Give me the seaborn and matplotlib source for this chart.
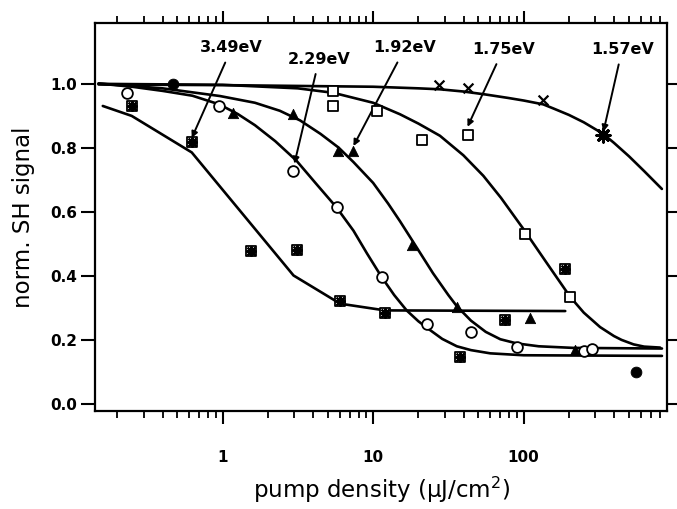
import numpy as np
import pandas as pd
import matplotlib
matplotlib.use('Agg')
import matplotlib.pyplot as plt
import matplotlib.ticker as mticker
import seaborn as sns

# fitted curves, x in uJ/cm^2
c157_x = [0.15, 1, 10, 20, 27.8, 40, 55.5, 79, 100, 135, 158, 200, 251, 316, 339, 398, 501, 631, 829]
c157_y = [0.997, 0.995, 0.99, 0.985, 0.982, 0.975, 0.966, 0.955, 0.947, 0.935, 0.922, 0.902, 0.879,
          0.851, 0.842, 0.815, 0.773, 0.727, 0.671]

c175_x = [0.15, 1, 3.16, 5.45, 10, 15.1, 20, 27.8, 39.8, 54, 70.8, 99.7, 141, 204, 251, 322, 398, 447,
          537, 631, 807]
c175_y = [0.999, 0.996, 0.985, 0.971, 0.94, 0.904, 0.875, 0.837, 0.776, 0.712, 0.643, 0.546, 0.443,
          0.334, 0.285, 0.24, 0.212, 0.2, 0.186, 0.179, 0.176]

c192_x = [0.15, 0.4, 0.96, 1.64, 2.4, 3.27, 4.47, 5.9, 7.4, 10, 12.6, 15.1, 18.5, 25, 31.6, 36, 44.7,
          56, 70, 90, 126, 214, 830]
c192_y = [1.0, 0.985, 0.961, 0.94, 0.915, 0.885, 0.843, 0.80, 0.755, 0.69, 0.625, 0.57, 0.505, 0.408,
          0.34, 0.305, 0.26, 0.225, 0.202, 0.189, 0.18, 0.175, 0.173]

c229_x = [0.15, 0.25, 0.4, 0.63, 0.95, 1.26, 1.64, 2.24, 3.1, 4.17, 5.7, 7.4, 9.1, 11.4, 13.8, 16.7,
          20, 24, 28.8, 36, 44.7, 60, 100, 830]
c229_y = [1.0, 0.99, 0.977, 0.962, 0.935, 0.905, 0.87, 0.82, 0.759, 0.688, 0.614, 0.541, 0.47, 0.396,
          0.34, 0.292, 0.258, 0.23, 0.203, 0.18, 0.168, 0.158, 0.152, 0.15]

c349_x = [0.16, 0.249, 0.624, 2.96, 6.04, 12, 189]
c349_y = [0.93, 0.899, 0.785, 0.401, 0.313, 0.292, 0.29]

# measured points
m349_x = [0.249, 0.624, 1.55, 3.11, 6.04, 12.0, 37.8, 75.4, 189]
m349_y = [0.93, 0.818, 0.476, 0.481, 0.32, 0.285, 0.147, 0.261, 0.422]

m229_x = [0.231, 0.94, 2.93, 5.79, 11.4, 22.7, 45, 90, 250, 284]
m229_y = [0.971, 0.93, 0.726, 0.614, 0.396, 0.25, 0.226, 0.178, 0.166, 0.17]

m192_x = [1.18, 2.95, 5.88, 7.4, 18.1, 36, 110, 220]
m192_y = [0.909, 0.904, 0.788, 0.788, 0.497, 0.302, 0.268, 0.168]

m175_x = [5.45, 5.4, 10.6, 21.1, 42.4, 102, 204]
m175_y = [0.977, 0.930, 0.914, 0.823, 0.84, 0.531, 0.334]

m157_x = [27.2, 43, 135]
m157_y = [0.994, 0.987, 0.95]
m157s_x = [339]
m157s_y = [0.84]

filled_x = [0.47, 560]
filled_y = [1.0, 0.1]

# labels: text, text position, arrow tip
labels = ['3.49eV', '2.29eV', '1.92eV', '1.75eV', '1.57eV']
label_x = [1.15, 4.38, 16.3, 73.1, 451]
label_y = [1.111, 1.076, 1.111, 1.106, 1.106]
tip_x = [0.624, 3.0, 7.4, 42.4, 339]
tip_y = [0.83, 0.75, 0.805, 0.865, 0.85]

sns.set_style('ticks')
plt.rcParams['font.family'] = ['DejaVu Sans']
plt.rcParams.update({'text.color': 'black', 'axes.labelcolor': 'black',
                     'xtick.color': 'black', 'ytick.color': 'black',
                     'axes.edgecolor': 'black'})

fig = plt.figure(figsize=(6.77, 5.09), dpi=100)
ax = fig.add_axes([0.1403, 0.1925, 0.845, 0.763])

for cx, cy in [(c157_x, c157_y), (c175_x, c175_y), (c192_x, c192_y),
               (c229_x, c229_y), (c349_x, c349_y)]:
    sns.lineplot(x=cx, y=cy, ax=ax, color='black', lw=1.9, sort=False, estimator=None)

k = dict(ax=ax, legend=False, zorder=5)
# 3.49 eV: boxed asterisk
sns.scatterplot(x=m349_x, y=m349_y, marker='s', s=42, facecolor='white', edgecolor='black', linewidth=1.3, **k)
sns.scatterplot(x=m349_x, y=m349_y, marker=(8, 2, 0), s=40, color='black', linewidth=1.6, **k)
sns.scatterplot(x=m229_x, y=m229_y, marker='o', s=60, facecolor='white', edgecolor='black', linewidth=1.3, **k)
sns.scatterplot(x=m192_x, y=m192_y, marker='^', s=55, color='black', edgecolor='black', **k)
sns.scatterplot(x=m175_x, y=m175_y, marker='s', s=48, facecolor='white', edgecolor='black', linewidth=1.3, **k)
sns.scatterplot(x=m157_x, y=m157_y, marker='x', s=50, color='black', linewidth=1.6, **k)
sns.scatterplot(x=m157s_x, y=m157s_y, marker=(8, 2, 0), s=90, color='black', linewidth=2.2, **k)
sns.scatterplot(x=filled_x, y=filled_y, marker='o', s=60, color='black', edgecolor='black', **k)

for t, lx, ly, tx, ty in zip(labels, label_x, label_y, tip_x, tip_y):
    ax.annotate(t, xy=(tx, ty), xytext=(lx, ly), ha='center', va='center',
                fontsize=11.5, fontweight='bold',
                arrowprops=dict(arrowstyle='-|>', color='black', lw=1.4,
                                mutation_scale=9, shrinkA=3, shrinkB=0))

ax.set_xscale('log')
ax.set_xlim(0.142, 897)
ax.set_ylim(-0.022, 1.19)
ax.xaxis.set_major_locator(mticker.FixedLocator([1, 10, 100]))
ax.xaxis.set_major_formatter(mticker.FixedFormatter(['1', '10', '100']))
ax.xaxis.set_minor_locator(mticker.LogLocator(base=10, subs=np.arange(2, 10)))
ax.xaxis.set_minor_formatter(mticker.NullFormatter())
ax.set_yticks([0.0, 0.2, 0.4, 0.6, 0.8, 1.0])
ax.yaxis.set_major_formatter(mticker.FormatStrFormatter('%.1f'))

ax.tick_params(axis='x', which='major', direction='out', length=9, width=1.5,
               top=True, bottom=True, pad=19, labelsize=11)
ax.tick_params(axis='x', which='minor', direction='out', length=5, width=1.3,
               top=True, bottom=True)
ax.tick_params(axis='y', which='major', direction='out', length=10, width=1.5,
               left=True, right=True, pad=3, labelsize=11)
for lab in ax.get_xticklabels() + ax.get_yticklabels():
    lab.set_fontweight('bold')

for sp in ax.spines.values():
    sp.set_visible(True)
    sp.set_linewidth(1.6)

ax.set_xlabel('pump density (μJ/cm$^2$)', fontsize=16.5, labelpad=7)
ax.set_ylabel('norm. SH signal', fontsize=16.5, labelpad=11)

fig.savefig('out.png', dpi=100)
